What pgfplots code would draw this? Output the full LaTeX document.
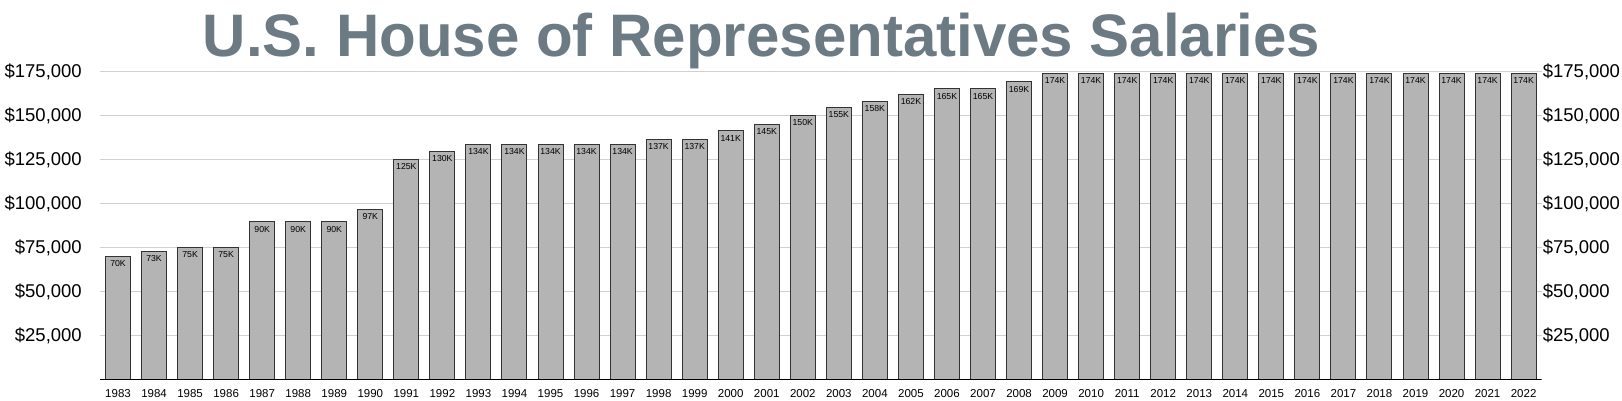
\documentclass[border=0pt]{standalone}
\usepackage{pgfplots}
\usepackage{pgfplotstable}
\pgfplotsset{compat=1.18}
\usepackage{fontspec}
\setmainfont{Liberation Sans}
\definecolor{titlegray}{RGB}{108,122,132}
\definecolor{barfill}{RGB}{180,180,180}
\definecolor{baredge}{RGB}{51,51,51}
\definecolor{gridgray}{RGB}{208,208,208}

\pgfplotstableread{
idx year value lab
0 1983 69800 70K
1 1984 72600 73K
2 1985 75100 75K
3 1986 75100 75K
4 1987 89500 90K
5 1988 89500 90K
6 1989 89500 90K
7 1990 96600 97K
8 1991 125100 125K
9 1992 129500 130K
10 1993 133600 134K
11 1994 133600 134K
12 1995 133600 134K
13 1996 133600 134K
14 1997 133600 134K
15 1998 136700 137K
16 1999 136700 137K
17 2000 141300 141K
18 2001 145100 145K
19 2002 150000 150K
20 2003 154700 155K
21 2004 158100 158K
22 2005 162100 162K
23 2006 165200 165K
24 2007 165200 165K
25 2008 169300 169K
26 2009 174000 174K
27 2010 174000 174K
28 2011 174000 174K
29 2012 174000 174K
30 2013 174000 174K
31 2014 174000 174K
32 2015 174000 174K
33 2016 174000 174K
34 2017 174000 174K
35 2018 174000 174K
36 2019 174000 174K
37 2020 174000 174K
38 2021 174000 174K
39 2022 174000 174K
}\salaries

\begin{document}
\begin{tikzpicture}[x=1pt,y=1pt]
\path[use as bounding box] (0,0) rectangle (1622,401);
\node[anchor=base, font=\fontsize{60}{60}\selectfont\bfseries, text=titlegray, inner sep=0pt]
  at (761.5,344.3) {U.S. House of Representatives Salaries};
\begin{axis}[
  at={(100pt,21.7pt)}, anchor=south west, scale only axis,
  width=1441.7pt, height=307.6pt,
  xmin=-0.5, xmax=39.5, ymin=0, ymax=175000,
  axis line style={draw=none},
  major tick length=0pt,
  ybar, bar width=25pt,
  xtick={0,...,39},
  xticklabels from table={\salaries}{year},
  xticklabel style={font=\fontsize{11.5}{12}\selectfont, anchor=north, inner sep=0pt, yshift=-9.7pt},
  ytick={25000,50000,75000,100000,125000,150000,175000},
  yticklabels={{\$25,000},{\$50,000},{\$75,000},{\$100,000},{\$125,000},{\$150,000},{\$175,000}},
  yticklabel style={font=\fontsize{18.5}{19}\selectfont, anchor=east, inner sep=0pt, xshift=-18pt},
  ymajorgrids, grid style={gridgray, line width=0.8pt},
  scaled y ticks=false,
  point meta=explicit symbolic,
  nodes near coords,
  every node near coord/.append style={font=\fontsize{8.7}{9}\selectfont, anchor=center, inner sep=0pt, yshift=-7.3pt, text=black},
]
\addplot[fill=barfill, draw=baredge, line width=1pt] table[x=idx, y=value, meta=lab] {\salaries};
\draw[black, line width=1.5pt] (axis cs:-0.5,0) -- (axis cs:39.5,0);
\end{axis}
\begin{axis}[
  at={(100pt,21.7pt)}, anchor=south west, scale only axis,
  width=1441.7pt, height=307.6pt,
  xmin=-0.5, xmax=39.5, ymin=0, ymax=175000,
  axis line style={draw=none},
  major tick length=0pt,
  xtick=\empty,
  yticklabel pos=right,
  ytick={25000,50000,75000,100000,125000,150000,175000},
  yticklabels={{\$25,000},{\$50,000},{\$75,000},{\$100,000},{\$125,000},{\$150,000},{\$175,000}},
  yticklabel style={font=\fontsize{18.5}{19}\selectfont, anchor=west, inner sep=0pt, xshift=1pt},
  scaled y ticks=false,
]
\addplot[draw=none] coordinates {(0,0)};
\end{axis}
\end{tikzpicture}
\end{document}
